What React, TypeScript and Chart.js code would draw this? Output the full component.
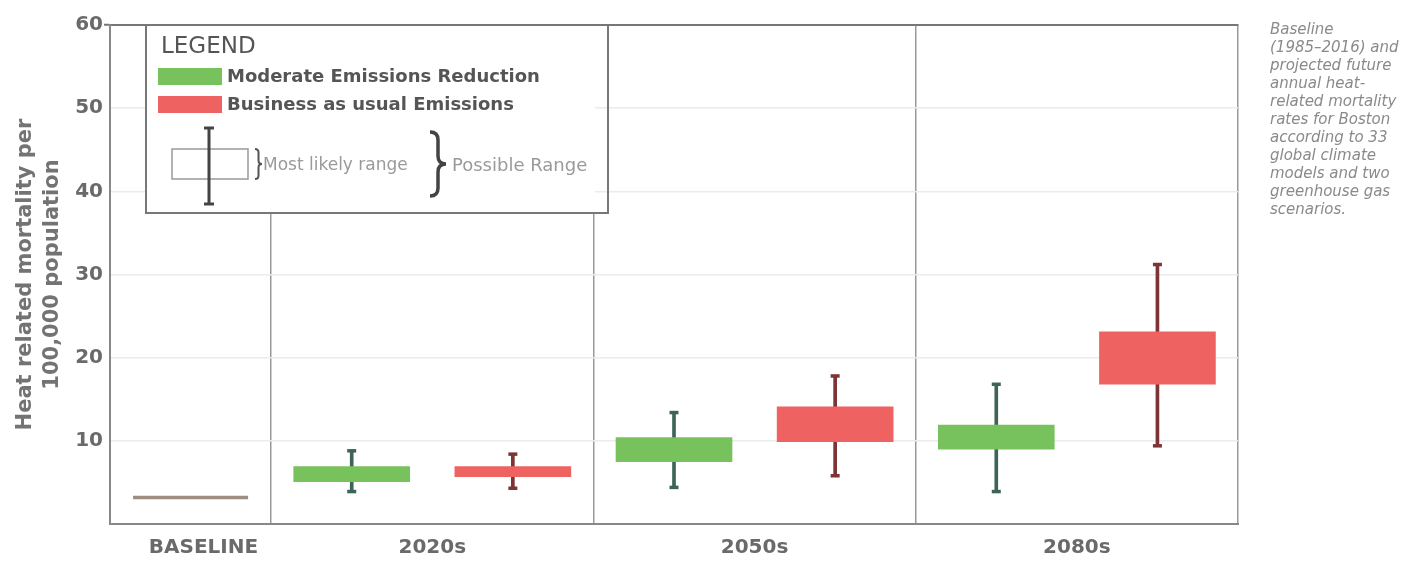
import React, { useEffect, useRef } from 'react';
import { Chart, registerables } from 'chart.js';

Chart.register(...registerables);

// ---------------- data ----------------
const CATEGORIES = ['BASELINE', '2020s', '2050s', '2080s'];
const PERIODS = ['2020s', '2050s', '2080s'];
const SERIES_LABELS = ['Moderate Emissions Reduction', 'Business as usual Emissions'];
const Y_TICKS = [0, 10, 20, 30, 40, 50, 60];

const BASELINE_RATE = 3.2;

const MODERATE_BOX_LOW = [5.1, 7.5, 9.0];
const MODERATE_BOX_HIGH = [6.9, 10.4, 11.9];
const MODERATE_WHISKER_LOW = [3.9, 4.4, 3.9];
const MODERATE_WHISKER_HIGH = [8.8, 13.4, 16.8];

const BAU_BOX_LOW = [5.7, 9.9, 16.8];
const BAU_BOX_HIGH = [6.9, 14.1, 23.1];
const BAU_WHISKER_LOW = [4.3, 5.8, 9.4];
const BAU_WHISKER_HIGH = [8.4, 17.8, 31.2];

const Y_TITLE = ['Heat related mortality per', '100,000 population'];
const CAPTION_LINES = [
  'Baseline',
  '(1985\u20132016) and',
  'projected future',
  'annual heat-',
  'related mortality',
  'rates for Boston',
  'according to 33',
  'global climate',
  'models and two',
  'greenhouse gas',
  'scenarios.',
];

// ---------------- layout / style ----------------
const W = 1401;
const H = 561;
const FONT = "'DejaVu Sans', sans-serif";
const X_MAX = 3.5; // baseline occupies half a slot, periods one slot each
const BASELINE_X = 0.25;
const GROUP_OFFSET = 0.25;
const DIVIDERS = [0.5, 1.5, 2.5, 3.5];
const LABEL_X = [0.29, 1, 2, 3];

const GREEN = '#78c25e';
const RED = '#ee6262';
const GREEN_DARK = '#3e6357';
const RED_DARK = '#7d3434';
const BASE_COLOR = '#9d8e81';

const periodX = (i: number, side: number) => i + 1 + side * GROUP_OFFSET;

function brace(ctx: CanvasRenderingContext2D, xl: number, xt: number, y0: number, y1: number) {
  const xm = (xl + xt) / 2;
  const ym = (y0 + y1) / 2;
  const r = Math.min((xt - xl) / 2, (y1 - y0) / 4);
  ctx.beginPath();
  ctx.moveTo(xl, y0);
  ctx.quadraticCurveTo(xm, y0, xm, y0 + r);
  ctx.lineTo(xm, ym - r);
  ctx.quadraticCurveTo(xm, ym, xt, ym);
  ctx.quadraticCurveTo(xm, ym, xm, ym + r);
  ctx.lineTo(xm, y1 - r);
  ctx.quadraticCurveTo(xm, y1, xl, y1);
  ctx.stroke();
}

const legendPlugin = {
  id: 'boxLegend',
  afterDraw(chart: any) {
    const { ctx, chartArea } = chart;
    const L = chartArea.left + 36;
    const T = chartArea.top;
    const ds = chart.data.datasets;
    ctx.save();
    ctx.fillStyle = '#ffffff';
    ctx.fillRect(L, T, 449, 188);
    ctx.strokeStyle = '#777';
    ctx.lineWidth = 2;
    ctx.strokeRect(L, T, 462, 188);

    ctx.textBaseline = 'middle';
    ctx.textAlign = 'left';
    ctx.fillStyle = '#555';
    ctx.font = `normal 23px ${FONT}`;
    ctx.fillText('LEGEND', L + 15, T + 22);

    [0, 1].forEach((k) => {
      const y = T + 43 + k * 28;
      ctx.fillStyle = ds[k].backgroundColor;
      ctx.fillRect(L + 12, y, 64, 17);
      ctx.fillStyle = '#555';
      ctx.font = `bold 18px ${FONT}`;
      ctx.fillText(ds[k].label, L + 81, y + 9);
    });

    ctx.strokeStyle = '#9a9a9a';
    ctx.lineWidth = 1.5;
    ctx.strokeRect(L + 26, T + 124, 76, 30);
    ctx.strokeStyle = '#444';
    ctx.lineWidth = 3;
    ctx.beginPath();
    ctx.moveTo(L + 63, T + 103);
    ctx.lineTo(L + 63, T + 179);
    ctx.moveTo(L + 58, T + 103);
    ctx.lineTo(L + 68, T + 103);
    ctx.moveTo(L + 58, T + 179);
    ctx.lineTo(L + 68, T + 179);
    ctx.stroke();

    ctx.strokeStyle = '#555';
    ctx.lineWidth = 2;
    brace(ctx, L + 109, L + 116, T + 124, T + 154);
    ctx.fillStyle = '#9a9a9a';
    ctx.font = `normal 17px ${FONT}`;
    ctx.fillText('Most likely range', L + 117, T + 141);

    ctx.strokeStyle = '#444';
    ctx.lineWidth = 3.5;
    brace(ctx, L + 284, L + 300, T + 107, T + 171);
    ctx.font = `normal 18px ${FONT}`;
    ctx.fillText('Possible Range', L + 306, T + 141);
    ctx.restore();
  },
};

export default function App() {
  const ref = useRef<HTMLCanvasElement | null>(null);

  useEffect(() => {
    if (!ref.current) return;
    const boxData = (lo: number[], hi: number[], side: number) =>
      PERIODS.map((_, i) => ({ x: periodX(i, side), y: [lo[i], hi[i]] }));
    const capData = (lo: number[], hi: number[], side: number) =>
      PERIODS.flatMap((_, i) => [
        { x: periodX(i, side), y: lo[i] },
        { x: periodX(i, side), y: hi[i] },
      ]);

    const barCommon = {
      type: 'bar',
      grouped: false,
      barPercentage: 1,
      categoryPercentage: 1,
      borderWidth: 0,
    };
    const capCommon = {
      type: 'scatter',
      pointStyle: 'line',
      pointRadius: 4.5,
      pointHoverRadius: 4.5,
      borderWidth: 3.5,
      order: 1,
    };

    const chart = new Chart(ref.current, {
      type: 'bar',
      data: {
        datasets: [
          { ...barCommon, label: SERIES_LABELS[0], data: boxData(MODERATE_BOX_LOW, MODERATE_BOX_HIGH, -1), backgroundColor: GREEN, maxBarThickness: 116, order: 0 },
          { ...barCommon, label: SERIES_LABELS[1], data: boxData(BAU_BOX_LOW, BAU_BOX_HIGH, 1), backgroundColor: RED, maxBarThickness: 116, order: 0 },
          { ...barCommon, label: 'moderate range', data: boxData(MODERATE_WHISKER_LOW, MODERATE_WHISKER_HIGH, -1), backgroundColor: GREEN_DARK, maxBarThickness: 3, order: 2 },
          { ...barCommon, label: 'bau range', data: boxData(BAU_WHISKER_LOW, BAU_WHISKER_HIGH, 1), backgroundColor: RED_DARK, maxBarThickness: 3, order: 2 },
          { ...capCommon, label: 'moderate caps', data: capData(MODERATE_WHISKER_LOW, MODERATE_WHISKER_HIGH, -1), borderColor: GREEN_DARK, backgroundColor: GREEN_DARK },
          { ...capCommon, label: 'bau caps', data: capData(BAU_WHISKER_LOW, BAU_WHISKER_HIGH, 1), borderColor: RED_DARK, backgroundColor: RED_DARK },
          {
            type: 'scatter',
            label: 'Baseline',
            data: [{ x: BASELINE_X, y: BASELINE_RATE }],
            pointStyle: 'line',
            pointRadius: 57.5,
            pointHoverRadius: 57.5,
            borderWidth: 3.5,
            borderColor: BASE_COLOR,
            backgroundColor: BASE_COLOR,
            order: 0,
          },
        ] as any,
      },
      options: {
        responsive: false,
        animation: false,
        devicePixelRatio: 1,
        layout: { autoPadding: false, padding: { top: 0, right: W - 1238, left: 0, bottom: 0 } },
        plugins: { legend: { display: false }, tooltip: { enabled: false } },
        events: [],
        scales: {
          x: {
            type: 'linear',
            position: 'bottom',
            min: 0,
            max: X_MAX,
            offset: false,
            afterBuildTicks: (s: any) => {
              s.ticks = LABEL_X.map((v) => ({ value: v }));
            },
            afterFit: (s: any) => {
              s.height = 37;
            },
            ticks: {
              padding: 12,
              color: '#6a6a6a',
              autoSkip: false,
              maxRotation: 0,
              font: { family: FONT, size: 20, weight: 'bold' },
              callback: (_v: any, i: number) => CATEGORIES[i],
            },
            grid: { display: false, drawTicks: false, offset: false },
            border: { display: true, color: '#888', width: 2 },
          },
          xg: {
            type: 'linear',
            position: 'top',
            min: 0,
            max: X_MAX,
            offset: false,
            afterBuildTicks: (s: any) => {
              s.ticks = DIVIDERS.map((v) => ({ value: v }));
            },
            afterFit: (s: any) => {
              s.height = 25;
            },
            ticks: { display: false },
            grid: { color: '#9a9a9a', lineWidth: 1.5, drawTicks: false, offset: false },
            border: { display: true, color: '#777', width: 2 },
          },
          y: {
            min: 0,
            max: 60,
            afterBuildTicks: (s: any) => {
              s.ticks = Y_TICKS.map((v) => ({ value: v }));
            },
            afterFit: (s: any) => {
              s.width = 110;
            },
            ticks: {
              padding: 1,
              color: '#6a6a6a',
              font: { family: FONT, size: 20, weight: 'bold' },
              callback: (v: any) => (v === 0 ? '' : String(v)),
            },
            grid: {
              color: '#ebebeb',
              lineWidth: 1.5,
              drawTicks: true,
              tickLength: 6,
              tickWidth: 2,
              tickColor: (c: any) => (c.tick && c.tick.value === 60 ? '#777' : 'rgba(0,0,0,0)'),
            },
            border: { display: true, color: '#888', width: 2 },
            title: {
              display: true,
              text: Y_TITLE,
              color: '#737373',
              font: { family: FONT, size: 21, weight: 'bold', lineHeight: 1.3 },
              padding: { top: 12, bottom: 0 },
            },
          },
        },
      } as any,
      plugins: [legendPlugin],
    });
    return () => chart.destroy();
  }, []);

  return (
    <div style={{ position: 'absolute', left: 0, top: 0, width: W, height: H, background: '#fff' }}>
      <canvas ref={ref} width={W} height={H} style={{ display: 'block' }} />
      <div
        style={{
          position: 'absolute',
          left: 1270,
          top: 20,
          fontFamily: FONT,
          fontStyle: 'italic',
          fontSize: 15,
          lineHeight: '18px',
          color: '#8a8a8a',
          whiteSpace: 'pre',
        }}
      >
        {CAPTION_LINES.join('\n')}
      </div>
    </div>
  );
}
